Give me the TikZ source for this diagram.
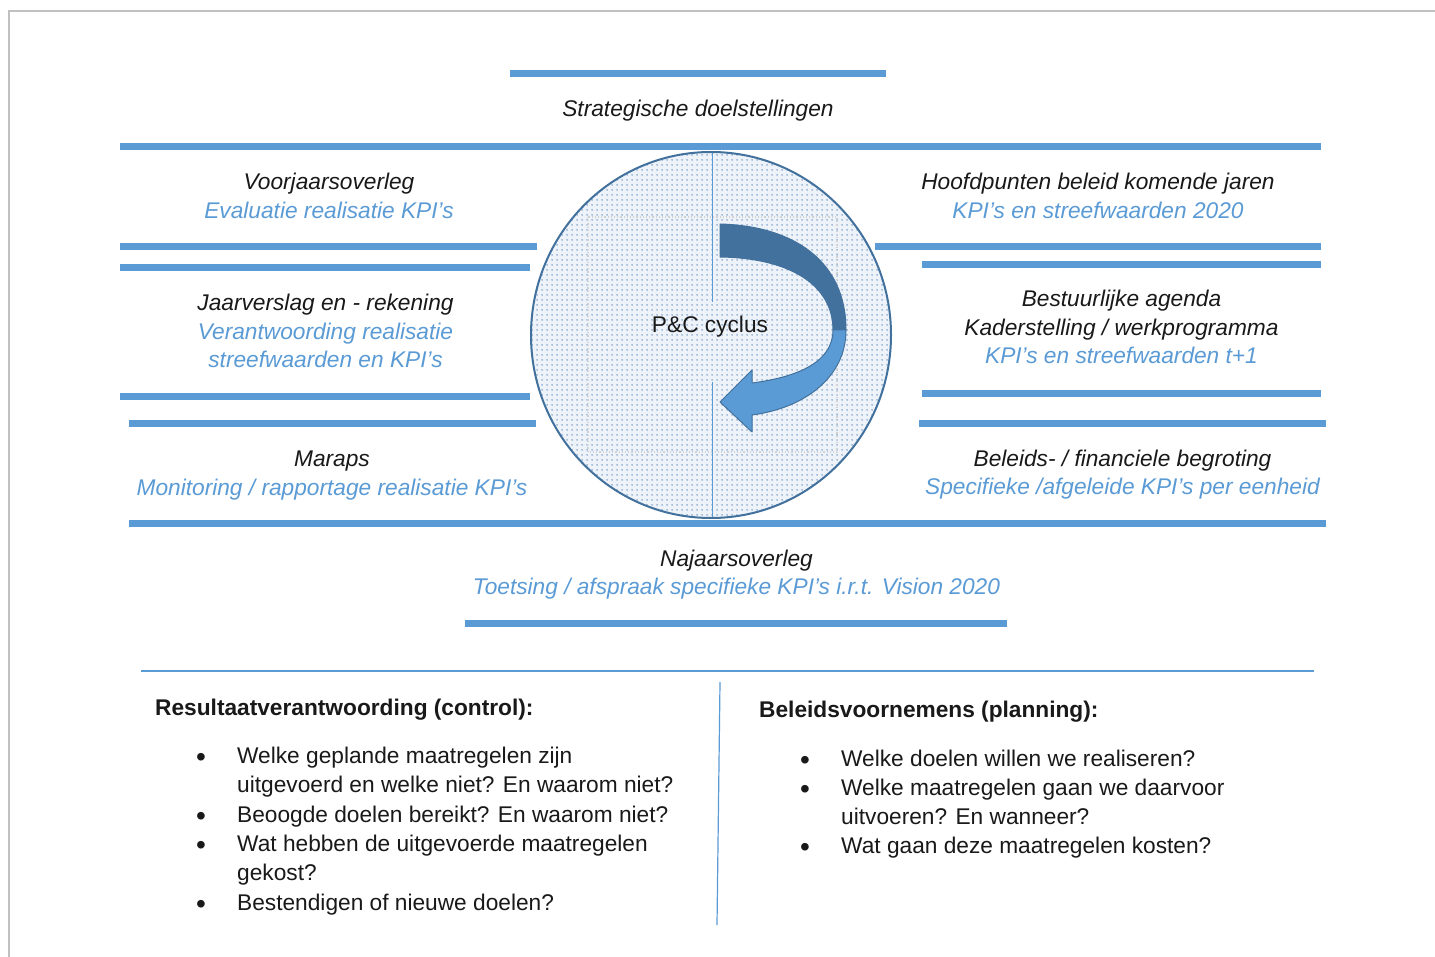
\documentclass[tikz,border=0pt]{standalone}
\usepackage{fontspec}
\setmainfont{Liberation Sans}
\usetikzlibrary{patterns.meta}
\definecolor{acc}{RGB}{91,155,213}
\definecolor{darkacc}{RGB}{65,113,156}
\definecolor{framegray}{RGB}{192,192,192}
\definecolor{dotcol}{RGB}{100,140,190}
\definecolor{tint}{RGB}{238,243,250}
\definecolor{txt}{RGB}{25,25,25}
\tikzdeclarepattern{
  name=pcdots,
  type=uncolored,
  bounding box={(0pt,0pt) and (5pt,5pt)},
  tile size={(5pt,5pt)},
  code={\fill (2.5pt,2.5pt) circle (0.95pt);}
}
\begin{document}
\begin{tikzpicture}[x=1pt,y=-1pt,
  bar/.style={acc, line width=7pt},
  lbl/.style={anchor=base, inner sep=0pt, font=\fontsize{22.7}{27}\selectfont\itshape, text=txt},
  kpi/.style={lbl, text=acc},
  body/.style={anchor=base west, inner sep=0pt, font=\fontsize{22.7}{27}\selectfont, text=txt},
  head/.style={body, font=\fontsize{22.7}{27}\selectfont\bfseries},
  plain/.style={anchor=base, inner sep=0pt, font=\fontsize{22.7}{27}\selectfont, text=txt},
  bul/.style={anchor=base, inner sep=0pt, font=\fontsize{28}{28}\selectfont, text=txt, yshift=-3pt},
  thin/.style={acc, line width=1.2pt},
]
\useasboundingbox (0,0) rectangle (1435,957);
\fill[white] (0,0) rectangle (1435,957);
\draw[framegray, line width=1.5pt] (9,957) -- (9,11) -- (1435,11);

% bars
\draw[bar] (510,74) -- (886,74);
\draw[bar] (120,146.5) -- (1321,146.5);
\draw[bar] (120,246.5) -- (537,246.5);
\draw[bar] (875,246.5) -- (1321,246.5);
\draw[bar] (120,268) -- (530,268);
\draw[bar] (922,264.5) -- (1321,264.5);
\draw[bar] (120,396.5) -- (530,396.5);
\draw[bar] (922,393.3) -- (1321,393.3);
\draw[bar] (129,423.3) -- (536,423.3);
\draw[bar] (919,423.3) -- (1326,423.3);
\draw[bar] (129,523.3) -- (1326,523.3);
\draw[bar] (465,623.3) -- (1007,623.3);

% circle
\fill[tint] (711,335) ellipse [x radius=180pt, y radius=183pt];
\fill[pattern=pcdots, pattern color=dotcol] (711,335) ellipse [x radius=180pt, y radius=183pt];
\draw[gray!35, dotted, line width=1.2pt] (588,217) rectangle (837,452);
\draw[acc, line width=0.8pt] (712,153) -- (712,302);
\draw[acc, line width=0.8pt] (712,382) -- (712,517);
\draw[darkacc, line width=2pt] (711,335) ellipse [x radius=180pt, y radius=183pt];

% curved arrow
\filldraw[fill=darkacc, draw=darkacc, line width=1pt, line join=round]
  (720,224) .. controls (795,226) and (846,262) .. (846,330)
  -- (833,330) .. controls (833,285) and (790,258) .. (720,257) -- cycle;
\filldraw[fill=acc, draw=darkacc, line width=1pt, line join=round]
  (846,330) .. controls (846,377) and (805,408) .. (752,415)
  -- (752,432) -- (720,402) -- (752,370) -- (752,383)
  .. controls (798,377) and (833,362) .. (833,330) -- cycle;

\node[plain] (pc) at (710,333) {P\&C cyclus};

% labels
\node[lbl] (sd) at (698,117) {Strategische doelstellingen};

\node[lbl] (v1) at (329,190) {Voorjaarsoverleg};
\node[kpi] (v2) at (329,218.3) {Evaluatie realisatie KPI’s};

\node[lbl] (h1) at (1098,190) {Hoofdpunten beleid komende jaren};
\node[kpi] (h2) at (1098,218.3) {KPI’s en streefwaarden 2020};

\node[lbl] (j1) at (325.5,311) {Jaarverslag en - rekening};
\node[kpi] (j2) at (325.5,339.5) {Verantwoording realisatie};
\node[kpi] (j3) at (325.5,368) {streefwaarden en KPI’s};

\node[lbl] (b1) at (1121.5,307) {Bestuurlijke agenda};
\node[lbl] (b2) at (1121.5,336) {Kaderstelling / werkprogramma};
\node[kpi] (b3) at (1121.5,364) {KPI’s en streefwaarden t+1};

\node[lbl] (m1) at (332,466) {Maraps};
\node[kpi] (m2) at (332,495) {Monitoring / rapportage realisatie KPI’s};

\node[lbl] (f1) at (1122.5,466) {Beleids- / financiele begroting};
\node[kpi] (f2) at (1122.5,494) {Specifieke /afgeleide KPI’s per eenheid};

\node[lbl] (n1) at (736.5,566) {Najaarsoverleg};
\node[kpi] (n2) at (736.5,594) {Toetsing / afspraak specifieke KPI’s i.r.t. Vision 2020};

% separators
\coordinate (sepL) at (141,671);
\coordinate (sepR) at (1314,671);
\draw[thin] (sepL) -- (sepR);
\coordinate (vt) at (720,682);
\coordinate (vb) at (717,925);
\draw[thin] (vt) -- (vb);

% left column
\node[head] (lh) at (155,715) {Resultaatverantwoording (control):};
\node[bul] (lb1) at (201,763) {•};
\node[body] (lt1) at (237,763) {Welke geplande maatregelen zijn};
\node[body] (lt1b) at (237,792) {uitgevoerd en welke niet? En waarom niet?};
\node[bul] (lb2) at (201,822) {•};
\node[body] (lt2) at (237,822) {Beoogde doelen bereikt? En waarom niet?};
\node[bul] (lb3) at (201,851) {•};
\node[body] (lt3) at (237,851) {Wat hebben de uitgevoerde maatregelen};
\node[body] (lt3b) at (237,880) {gekost?};
\node[bul] (lb4) at (201,910) {•};
\node[body] (lt4) at (237,910) {Bestendigen of nieuwe doelen?};

% right column
\node[head] (rh) at (759,717) {Beleidsvoornemens (planning):};
\node[bul] (rb1) at (805,766) {•};
\node[body] (rt1) at (841,766) {Welke doelen willen we realiseren?};
\node[bul] (rb2) at (805,795) {•};
\node[body] (rt2) at (841,795) {Welke maatregelen gaan we daarvoor};
\node[body] (rt2b) at (841,824) {uitvoeren? En wanneer?};
\node[bul] (rb3) at (805,853) {•};
\node[body] (rt3) at (841,853) {Wat gaan deze maatregelen kosten?};
\end{tikzpicture}
\end{document}
